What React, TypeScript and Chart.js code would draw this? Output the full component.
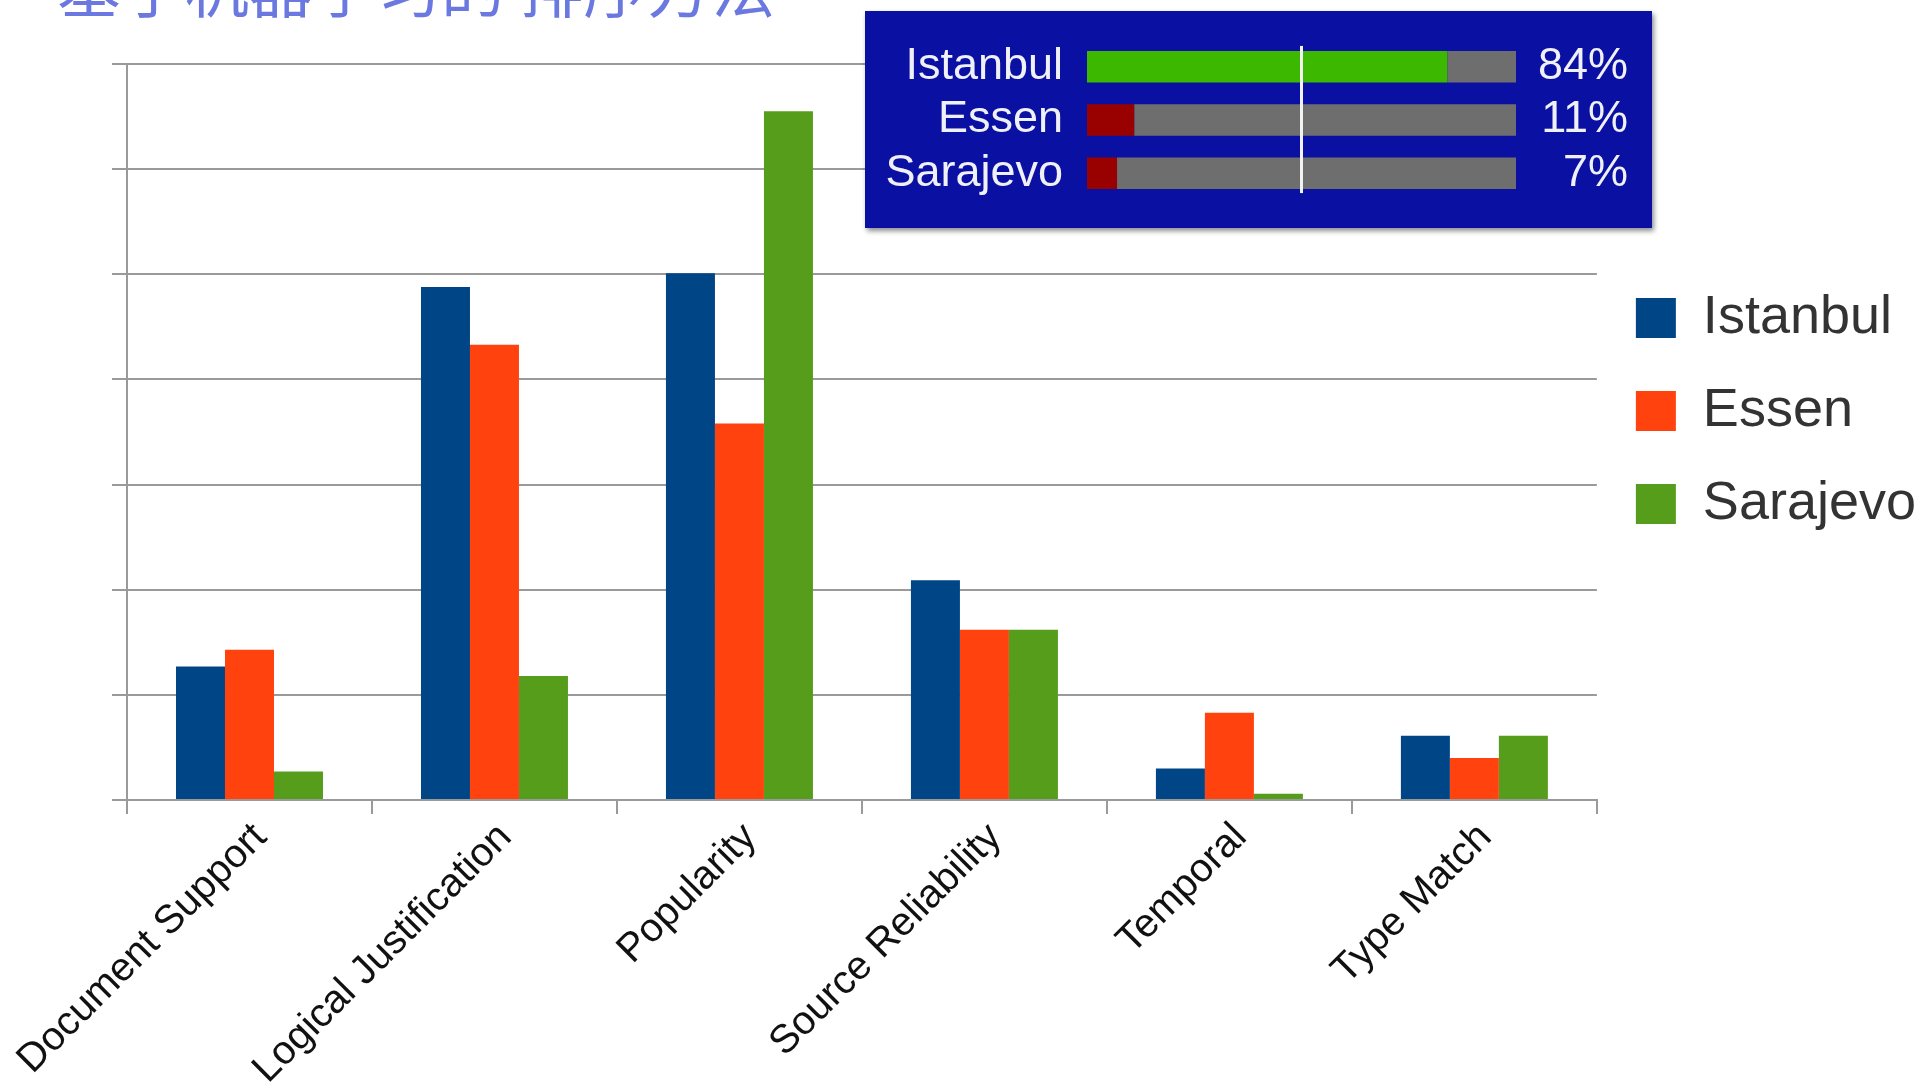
import React, { useEffect, useRef } from 'react';
import { Chart, registerables } from 'chart.js';

Chart.register(...registerables);
Chart.defaults.font.family = "'Liberation Sans', Arial, sans-serif";

// ---- main chart data ----
const categories = [
  'Document Support',
  'Logical Justification',
  'Popularity',
  'Source Reliability',
  'Temporal',
  'Type Match',
];
const seriesNames = ['Istanbul', 'Essen', 'Sarajevo'];
const seriesColors = ['#004586', '#ff420e', '#579d1c'];
const istanbulValues = [1.27, 4.88, 5.01, 2.09, 0.3, 0.61];
const essenValues = [1.43, 4.33, 3.58, 1.62, 0.83, 0.4];
const sarajevoValues = [0.27, 1.18, 6.55, 1.62, 0.06, 0.61];
const yMax = 7;
const yStep = 1;

const titleText = '基于机器学习的 排序方法';

// ---- inset data ----
const insetCities = ['Istanbul', 'Essen', 'Sarajevo'];
const insetShares = [84, 11, 7];
const insetLabels = ['84%', '11%', '7%'];
const insetBarColors = ['#3cb800', '#990000', '#990000'];
const insetRestColor = '#6e6e6e';
const insetMarker = 50;

const markerPlugin = {
  id: 'markerLine',
  afterDatasetsDraw(chart: any) {
    const xs = chart.scales.x;
    const meta = chart.getDatasetMeta(0);
    const first = meta.data[0] as any;
    const last = meta.data[meta.data.length - 1] as any;
    const x = xs.getPixelForValue(insetMarker);
    const top = first.y - first.height / 2 - 5;
    const bottom = last.y + last.height / 2 + 4;
    const ctx = chart.ctx;
    ctx.save();
    ctx.strokeStyle = '#f2f2f2';
    ctx.lineWidth = 3;
    ctx.beginPath();
    ctx.moveTo(x, top);
    ctx.lineTo(x, bottom);
    ctx.stroke();
    ctx.restore();
  },
};

export default function App() {
  const mainRef = useRef<HTMLCanvasElement>(null);
  const insetRef = useRef<HTMLCanvasElement>(null);

  useEffect(() => {
    const values = [istanbulValues, essenValues, sarajevoValues];
    const main = new Chart(mainRef.current as HTMLCanvasElement, {
      type: 'bar',
      data: {
        labels: categories,
        datasets: seriesNames.map((name, i) => ({
          label: name,
          data: values[i],
          backgroundColor: seriesColors[i],
          borderWidth: 0,
        })),
      },
      options: {
        responsive: false,
        animation: false,
        devicePixelRatio: 1,
        layout: { padding: { top: 64, left: 0, right: -6, bottom: 0 } },
        datasets: { bar: { categoryPercentage: 0.6, barPercentage: 1.0 } },
        plugins: {
          tooltip: { enabled: false },
          legend: {
            position: 'right',
            align: 'start',
            title: {
              display: true,
              text: ' ',
              font: { size: 10 },
              padding: { top: 176, bottom: 0 },
            },
            labels: {
              boxWidth: 40,
              boxHeight: 40,
              padding: 39,
              color: '#333333',
              font: { family: "'Liberation Sans', Arial, sans-serif", size: 54 },
            },
          },
        },
        scales: {
          x: {
            grid: {
              display: true,
              drawOnChartArea: false,
              drawTicks: true,
              tickLength: 14,
              color: '#9a9a9a',
              lineWidth: 2,
              offset: true,
            },
            border: { display: true, color: '#9a9a9a', width: 2 },
            ticks: {
              autoSkip: false,
              maxRotation: 45,
              minRotation: 45,
              labelOffset: 11,
              padding: 0,
              color: '#111111',
              font: { family: "'Liberation Sans', Arial, sans-serif", size: 40 },
            },
            afterFit: (s: any) => {
              s.height = 287;
              s.paddingLeft = 0;
              s.paddingRight = 0;
            },
          },
          y: {
            min: 0,
            max: yMax,
            ticks: { stepSize: yStep, display: false },
            grid: { color: '#9a9a9a', lineWidth: 2, tickLength: 15, drawTicks: true },
            border: { display: true, color: '#9a9a9a', width: 2 },
            afterFit: (s: any) => {
              s.width = 127;
            },
          },
        },
      } as any,
    });

    const inset = new Chart(insetRef.current as HTMLCanvasElement, {
      type: 'bar',
      data: {
        labels: insetCities,
        datasets: [
          { data: insetShares, backgroundColor: insetBarColors, borderWidth: 0 },
          { data: insetShares.map((v) => 100 - v), backgroundColor: insetRestColor, borderWidth: 0 },
        ],
      },
      options: {
        indexAxis: 'y',
        responsive: false,
        animation: false,
        devicePixelRatio: 1,
        layout: { padding: { top: 29, bottom: 28, left: 0, right: 24 } },
        datasets: { bar: { categoryPercentage: 1, barPercentage: 0.59 } },
        plugins: { legend: { display: false }, tooltip: { enabled: false } },
        scales: {
          x: { stacked: true, min: 0, max: 100, display: false },
          y: {
            stacked: true,
            position: 'left',
            grid: { display: false, drawTicks: false },
            border: { display: false },
            ticks: {
              autoSkip: false,
              color: '#f0f0f8',
              padding: 24,
              font: { family: "'Liberation Sans', Arial, sans-serif", size: 45 },
            },
            afterFit: (s: any) => {
              s.width = 222;
              s.paddingTop = 0;
              s.paddingBottom = 0;
            },
          },
          y2: {
            type: 'category',
            labels: insetLabels,
            position: 'right',
            offset: true,
            grid: { display: false, drawTicks: false },
            border: { display: false },
            ticks: {
              autoSkip: false,
              color: '#f0f0f8',
              padding: 20,
              crossAlign: 'far',
              font: { family: "'Liberation Sans', Arial, sans-serif", size: 45 },
            },
            afterFit: (s: any) => {
              s.width = 112;
              s.paddingTop = 0;
              s.paddingBottom = 0;
            },
          },
        },
      } as any,
      plugins: [markerPlugin],
    });

    return () => {
      main.destroy();
      inset.destroy();
    };
  }, []);

  return (
    <div
      style={{
        position: 'fixed',
        left: 0,
        top: 0,
        width: 1920,
        height: 1087,
        background: '#ffffff',
        overflow: 'hidden',
      }}
    >
      <canvas
        ref={mainRef}
        width={1920}
        height={1087}
        style={{ position: 'absolute', left: 0, top: 0, width: 1920, height: 1087 }}
      />
      <div
        style={{
          position: 'absolute',
          left: 57,
          top: -48,
          fontFamily: "'Noto Sans CJK SC', sans-serif",
          fontSize: 64,
          lineHeight: '64px',
          color: '#6b78e0',
          whiteSpace: 'pre',
        }}
      >
        {titleText}
      </div>
      <canvas
        ref={insetRef}
        width={787}
        height={217}
        style={{
          position: 'absolute',
          left: 865,
          top: 11,
          width: 787,
          height: 217,
          background: '#0a10a2',
          boxShadow: '2px 3px 5px rgba(0,0,0,0.45)',
        }}
      />
    </div>
  );
}
